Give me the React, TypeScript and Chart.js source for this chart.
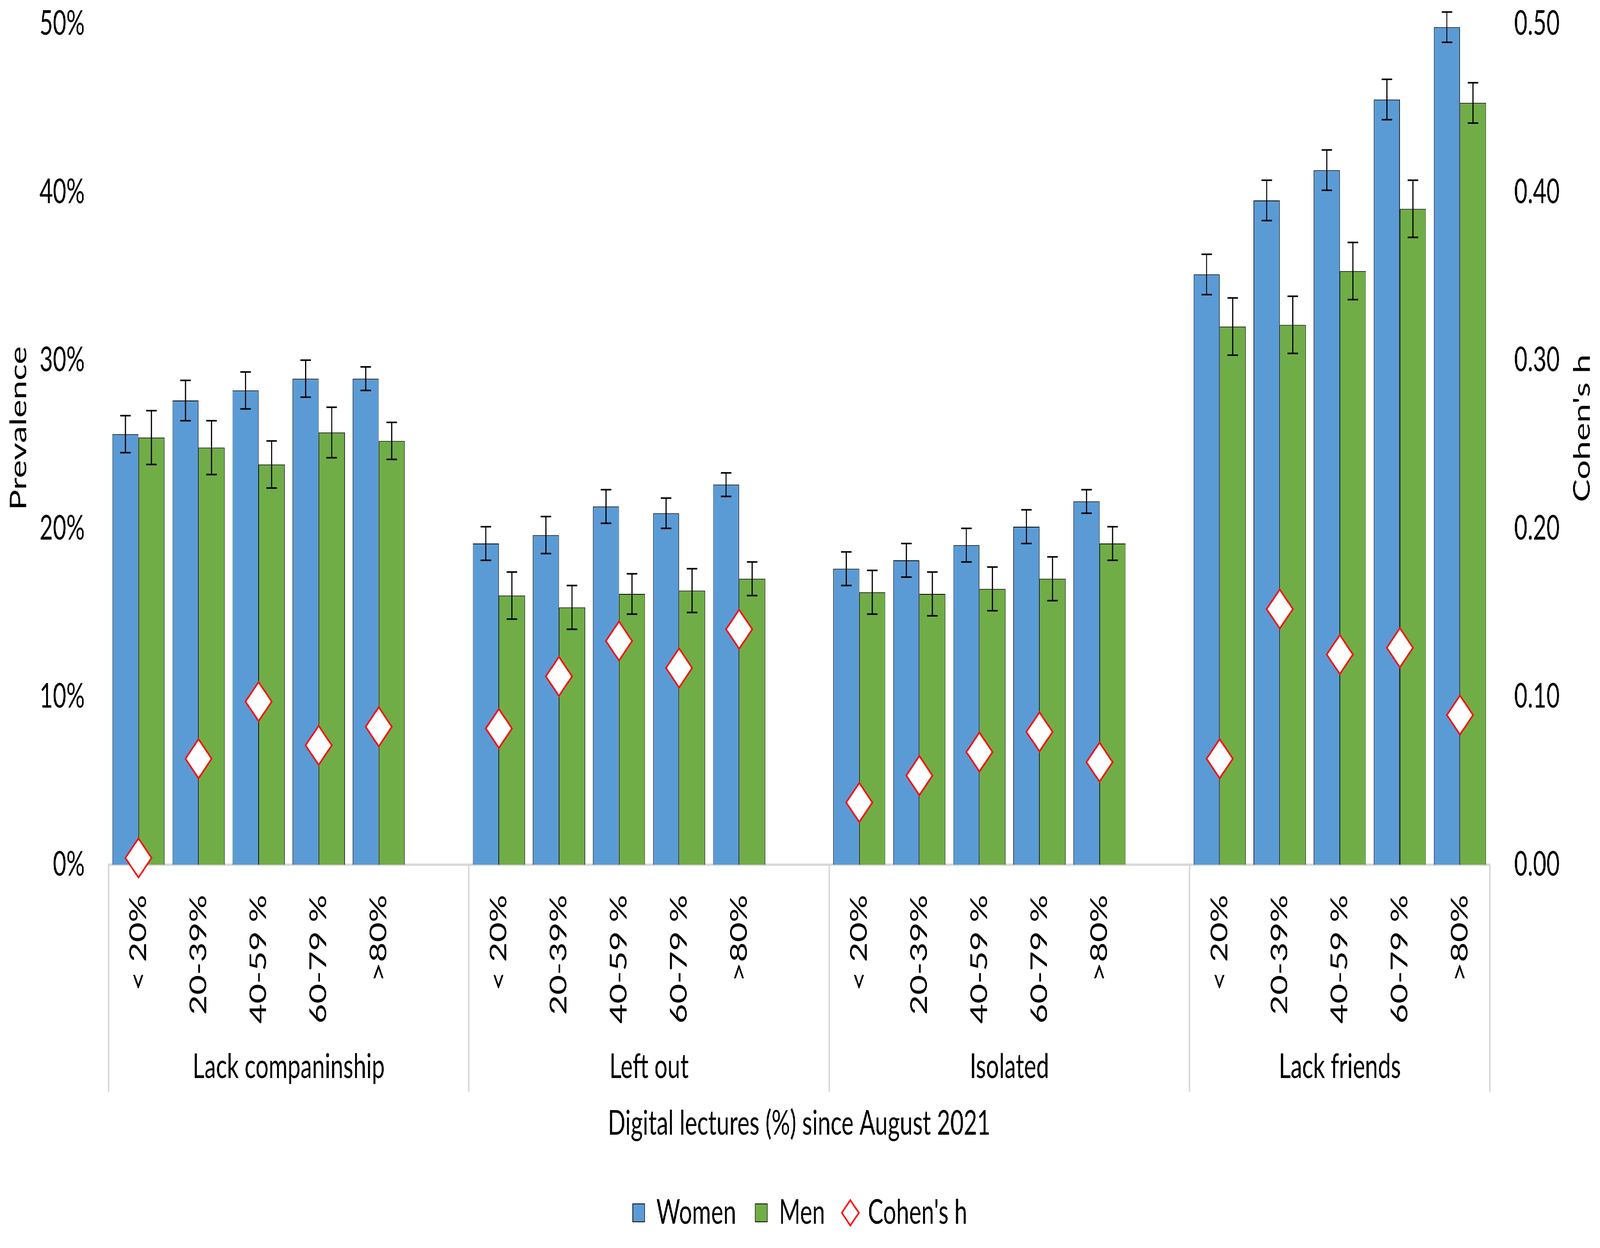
import { useEffect, useRef } from "react";
import { Chart, registerables } from "chart.js";

Chart.register(...registerables);

// Grupos (nivel inferior del eje x) y franjas de clases digitales (nivel superior)
const groups = ["Lack companinship", "Left out", "Isolated", "Lack friends"];
const lectureBands = ["< 20%", "20-39%", "40-59 %", "60-79 %", ">80%"];

// Prevalencia (%) por grupo, una fila por grupo
const women = [
    [25.6, 27.6, 28.2, 28.9, 28.9],
    [19.1, 19.6, 21.3, 20.9, 22.6],
    [17.6, 18.1, 19.0, 20.1, 21.6],
    [35.1, 39.5, 41.3, 45.5, 49.8],
];
const men = [
    [25.4, 24.8, 23.8, 25.7, 25.2],
    [16.0, 15.3, 16.1, 16.3, 17.0],
    [16.2, 16.1, 16.4, 17.0, 19.1],
    [32.0, 32.1, 35.3, 39.0, 45.3],
];

// Semi-amplitud de las barras de error (%)
const womenErr = [
    [1.1, 1.2, 1.1, 1.1, 0.7],
    [1.0, 1.1, 1.0, 0.9, 0.7],
    [1.0, 1.0, 1.0, 1.0, 0.7],
    [1.2, 1.2, 1.2, 1.2, 0.9],
];
const menErr = [
    [1.6, 1.6, 1.4, 1.5, 1.1],
    [1.4, 1.3, 1.2, 1.3, 1.0],
    [1.3, 1.3, 1.3, 1.3, 1.0],
    [1.7, 1.7, 1.7, 1.7, 1.2],
];

// Cohen's h (eje derecho)
const cohensH = [
    [0.004, 0.063, 0.097, 0.071, 0.082],
    [0.081, 0.112, 0.133, 0.117, 0.140],
    [0.037, 0.053, 0.067, 0.079, 0.061],
    [0.063, 0.152, 0.125, 0.129, 0.089],
];

const FONT = "Lato, 'Noto Sans', sans-serif";
const FS = 88;
const W = 6094;
const H = 3194;

// Una categoria vacia entre grupos, como en Excel
const toSlots = (rows: (number | string)[][], blank: any) =>
    rows.flatMap((r, i) => (i < rows.length - 1 ? [...r, blank] : [...r]));

const slotLabels = toSlots(groups.map(() => lectureBands), "") as string[];
const errSlots = [toSlots(womenErr, null), toSlots(menErr, null)];

// Barras de error sobre cada barra
const errorBarPlugin = {
    id: "errorBars",
    afterDatasetDraw(chart: any, args: any) {
        if (args.index > 1) return;
        const { ctx } = chart;
        const yScale = chart.scales.y;
        const values = chart.data.datasets[args.index].data;
        const errs = errSlots[args.index];
        ctx.save();
        ctx.strokeStyle = "#000";
        ctx.lineWidth = 4;
        args.meta.data.forEach((bar: any, i: number) => {
            const v = values[i];
            const e = errs[i];
            if (v == null || e == null) return;
            const top = yScale.getPixelForValue(v + e);
            const bot = yScale.getPixelForValue(v - e);
            ctx.beginPath();
            ctx.moveTo(bar.x, top);
            ctx.lineTo(bar.x, bot);
            ctx.moveTo(bar.x - 20, top);
            ctx.lineTo(bar.x + 20, top);
            ctx.moveTo(bar.x - 20, bot);
            ctx.lineTo(bar.x + 20, bot);
            ctx.stroke();
        });
        ctx.restore();
    },
};

// Separadores y etiquetas de grupo del eje x, titulos de los ejes verticales
const groupAxisPlugin = {
    id: "groupAxis",
    afterDraw(chart: any) {
        const { ctx, chartArea } = chart;
        const x = chart.scales.x;
        const base = chartArea.bottom;
        const slot = x.getPixelForValue(1) - x.getPixelForValue(0);
        const edges: number[] = [x.left];
        groups.forEach((_, gi) => {
            if (gi < groups.length - 1) edges.push(x.getPixelForValue(gi * 6 + 5) + slot / 2);
        });
        edges.push(x.right);

        ctx.save();
        ctx.strokeStyle = "#d9d9d9";
        ctx.lineWidth = 6;
        edges.forEach((px) => {
            ctx.beginPath();
            ctx.moveTo(px, base);
            ctx.lineTo(px, base + 581);
            ctx.stroke();
        });

        ctx.fillStyle = "#000";
        ctx.font = `${FS}px ${FONT}`;
        ctx.textAlign = "center";
        ctx.textBaseline = "alphabetic";
        groups.forEach((g, gi) => {
            ctx.fillText(g, (edges[gi] + edges[gi + 1]) / 2, base + 546);
        });

        // Excel centra los titulos algo por encima del centro del area
        const midY = (chartArea.top + chartArea.bottom) / 2 - 41;
        ctx.textBaseline = "middle";
        [
            ["Prevalence", 72],
            ["Cohen's h", chart.width - 67],
        ].forEach(([text, cx]) => {
            ctx.save();
            ctx.translate(cx as number, midY);
            ctx.rotate(-Math.PI / 2);
            ctx.fillText(text as string, 0, 0);
            ctx.restore();
        });
        ctx.restore();
    },
};

// ancho fijo del eje y sin el margen vertical que Chart.js reserva para las etiquetas
const fixAxis = (scale: any, width: number) => {
    scale.width = width;
    scale.paddingTop = 0;
    scale.paddingBottom = 0;
};

export default function App() {
    const canvasRef = useRef<HTMLCanvasElement | null>(null);

    useEffect(() => {
        document.body.style.margin = "0";
        document.body.style.overflow = "hidden";
        const ctx = canvasRef.current?.getContext("2d");
        if (!ctx) return;

        Chart.defaults.font.family = FONT;
        Chart.defaults.font.size = FS;
        Chart.defaults.color = "#000";

        const chart = new Chart(ctx, {
            type: "bar",
            data: {
                labels: slotLabels,
                datasets: [
                    {
                        label: "Women",
                        data: toSlots(women, null),
                        backgroundColor: "#5B9BD5",
                        borderColor: "#000",
                        borderWidth: 2,
                        pointStyle: "rect",
                        order: 1,
                    } as any,
                    {
                        label: "Men",
                        data: toSlots(men, null),
                        backgroundColor: "#70AD47",
                        borderColor: "#000",
                        borderWidth: 2,
                        pointStyle: "rect",
                        order: 1,
                    },
                    {
                        type: "line",
                        label: "Cohen's h",
                        data: toSlots(cohensH, null),
                        yAxisID: "y1",
                        showLine: false,
                        pointStyle: "rectRot",
                        pointRadius: 50,
                        pointBorderWidth: 5,
                        pointBackgroundColor: "#fff",
                        pointBorderColor: "#f00",
                        backgroundColor: "#fff",
                        borderColor: "#f00",
                        borderWidth: 5,
                        clip: false,
                        order: 0,
                    },
                ],
            },
            options: {
                responsive: false,
                animation: false,
                events: [],
                layout: { padding: { top: 61, bottom: 36, left: 0, right: 0 } },
                datasets: { bar: { categoryPercentage: 0.87, barPercentage: 1.0 } },
                plugins: {
                    tooltip: { enabled: false },
                    legend: {
                        position: "bottom",
                        labels: {
                            usePointStyle: true,
                            boxWidth: 46,
                            boxHeight: 46,
                            padding: 73,
                            font: { size: FS },
                            sort: (a: any, b: any) => a.datasetIndex - b.datasetIndex,
                        },
                    },
                },
                scales: {
                    x: {
                        grid: { display: false, drawTicks: false },
                        border: { display: true, color: "#d9d9d9", width: 6 },
                        ticks: { autoSkip: false, minRotation: 90, maxRotation: 90, padding: 77 },
                        title: {
                            display: true,
                            text: "Digital lectures (%) since August 2021",
                            padding: { top: 0, bottom: 59 },
                        },
                        afterFit: (scale: any) => {
                            scale.height = 774;
                        },
                    },
                    y: {
                        position: "left",
                        min: 0,
                        max: 50,
                        grid: { display: false, drawTicks: false },
                        border: { display: false },
                        ticks: { stepSize: 10, padding: 90, callback: (v: any) => `${v}%` },
                        afterFit: (scale: any) => fixAxis(scale, 413),
                    },
                    y1: {
                        position: "right",
                        min: 0,
                        max: 0.5,
                        grid: { display: false, drawTicks: false },
                        border: { display: false },
                        ticks: { stepSize: 0.1, padding: 92, callback: (v: any) => Number(v).toFixed(2) },
                        afterFit: (scale: any) => fixAxis(scale, 419),
                    },
                },
            },
            plugins: [errorBarPlugin, groupAxisPlugin],
        });

        return () => {
            chart.destroy();
        };
    }, []);

    // el grafico se dibuja a 6094x3194 y se ajusta a la ventana real
    const sx = window.innerWidth / W;
    const sy = window.innerHeight / H;

    return (
        <div
            style={{
                position: "absolute",
                left: 0,
                top: 0,
                width: W,
                height: H,
                background: "#fff",
                transform: `scale(${sx}, ${sy})`,
                transformOrigin: "0 0",
            }}
        >
            <canvas ref={canvasRef} width={W} height={H} />
        </div>
    );
}
